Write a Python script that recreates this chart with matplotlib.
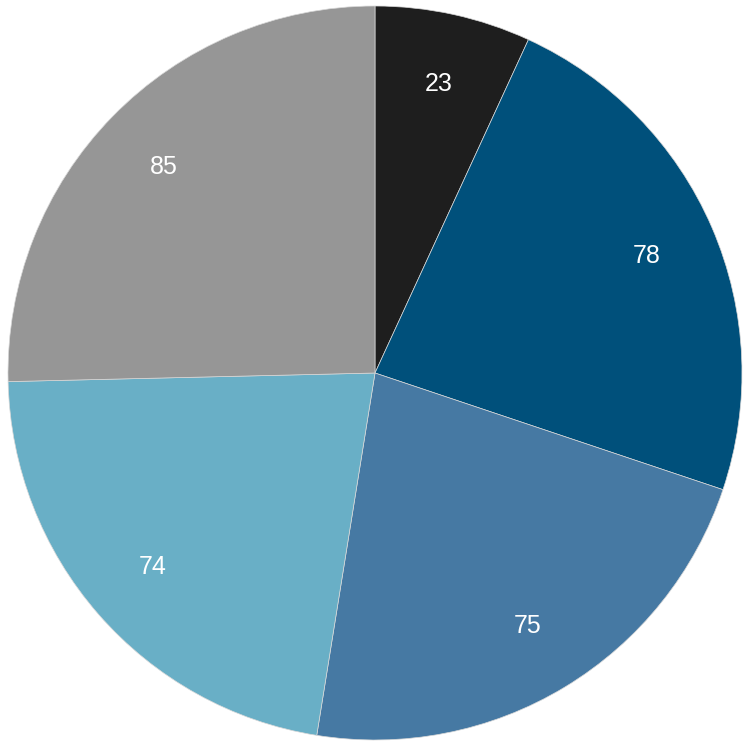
import matplotlib
matplotlib.use("Agg")
import matplotlib.pyplot as plt

values = [23, 78, 75, 74, 85]
labels = ["23", "78", "75", "74", "85"]
colors = ["#1e1e1e", "#00507b", "#4679a3", "#69afc6", "#969696"]

plt.rcParams['font.family'] = ['Liberation Sans', 'DejaVu Sans']
fig = plt.figure(figsize=(7.5, 7.5), dpi=100)
ax = fig.add_axes([0, 0, 1, 1])
wedges, texts = ax.pie(values, colors=colors, startangle=90, counterclock=False,
                       labels=labels, labeldistance=0.805, radius=1.0,
                       wedgeprops=dict(linewidth=0.5, edgecolor="#d8d8d8"),
                       textprops=dict(color="white", fontsize=18, ha="center", va="center"))
R = 367.0
cx, cy = 375.0, 377.0
ax.set_xlim(-cx / R, (750 - cx) / R)
ax.set_ylim(-cy / R, (750 - cy) / R)
ax.set_aspect("equal")
ax.axis("off")
fig.savefig("out.png", dpi=100, facecolor="white")
